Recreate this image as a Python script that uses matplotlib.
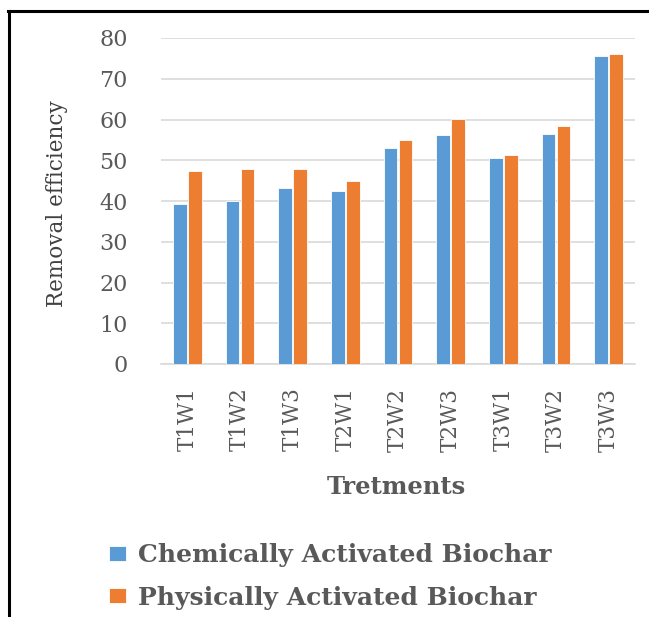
import numpy as np
import matplotlib
matplotlib.use('Agg')
import matplotlib.pyplot as plt
from matplotlib.lines import Line2D

tratamientos = ['T1W1', 'T1W2', 'T1W3', 'T2W1', 'T2W2', 'T2W3', 'T3W1', 'T3W2', 'T3W3']
quimico = [39.3, 40.1, 43.2, 42.4, 53.1, 56.3, 50.6, 56.5, 75.7]
fisico = [47.4, 47.8, 47.8, 45.0, 54.9, 60.2, 51.4, 58.3, 76.0]

plt.rcParams['font.family'] = ['DejaVu Serif']

W, H = 649, 617
fig = plt.figure(figsize=(W / 100, H / 100), dpi=100)
ax = fig.add_axes([161 / W, 1 - 364 / H, (635 - 161) / W, (364 - 38) / H])

x = np.arange(len(tratamientos))
ancho = 0.26
b1 = ax.bar(x - 0.14, quimico, ancho, color='#5B9BD5', edgecolor='white', linewidth=0.6,
            label='Chemically Activated Biochar', zorder=3)
b2 = ax.bar(x + 0.14, fisico, ancho, color='#ED7D31', edgecolor='white', linewidth=0.6,
            label='Physically Activated Biochar', zorder=3)

ax.set_xlim(-0.5, len(tratamientos) - 0.5)
ax.set_ylim(0, 80)
ax.set_yticks(np.arange(0, 81, 10))
ax.set_xticks(x)
ax.set_xticklabels(tratamientos, rotation=90)
ax.yaxis.grid(True, color='#d9d9d9', linewidth=1.2, zorder=0)
ax.set_axisbelow(True)
for s in ['top', 'right', 'left']:
    ax.spines[s].set_visible(False)
ax.spines['bottom'].set_color('#d9d9d9')
ax.spines['bottom'].set_linewidth(1.2)
ax.tick_params(axis='both', length=0, colors='#595959')
ax.tick_params(axis='y', labelsize=16, pad=24)
ax.tick_params(axis='x', labelsize=15.5, pad=17)

fig.text(57 / W, 1 - 204 / H, 'Removal efficiency', rotation=90, ha='center', va='center',
         fontsize=15.5, color='#404040')
fig.text(396 / W, 1 - 487 / H, 'Tretments', ha='center', va='center',
         fontsize=17.5, fontweight='bold', color='#595959')

leg = fig.legend(handles=[b1, b2], loc='upper left', bbox_to_anchor=(109 / W, 1 - 543 / H),
                 frameon=False, borderpad=0, borderaxespad=0,
                 handlelength=0.68, handleheight=0.56, handletextpad=0.48, labelspacing=0.74,
                 prop={'weight': 'bold', 'size': 18})
for t in leg.get_texts():
    t.set_color('#595959')

# marco
fig.add_artist(Line2D([9 / W, 9 / W], [0, 1 - 11 / H], color='black', linewidth=2.2))
fig.add_artist(Line2D([8 / W, 1], [1 - 11 / H, 1 - 11 / H], color='black', linewidth=2.2))

plt.savefig('out.png', dpi=100)
